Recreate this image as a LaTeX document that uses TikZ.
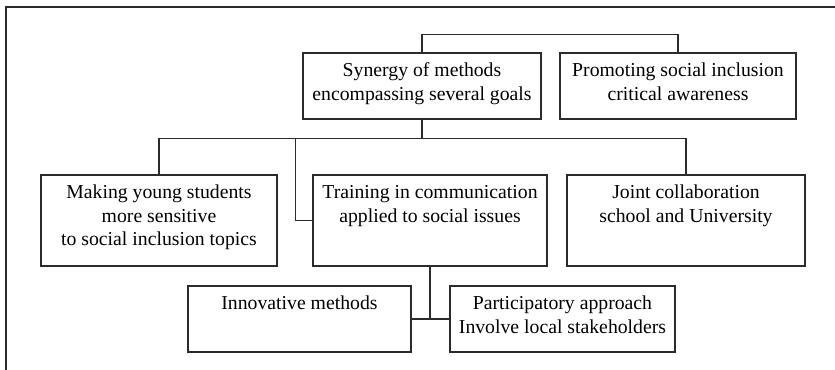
\documentclass[tikz,border=0pt]{standalone}
\usepackage{fontspec}
\setmainfont{Liberation Serif}
\usetikzlibrary{positioning,calc}
\definecolor{trazo}{HTML}{2B2B2B}
\newlength\px
\setlength\px{0.75pt}
\newcommand{\caja}[3]{\parbox[c][#2\px][t]{#1\px}{\centering\vspace*{5pt}\strut #3}}
\tikzset{
  recuadro/.style={draw=trazo,line width=0.9pt,inner sep=0pt,
                   font=\fontsize{14.8}{17.8}\selectfont},
  enlace/.style={draw=trazo,line width=0.9pt}
}

\begin{document}
\begin{tikzpicture}[x=0.75pt,y=-0.75pt]
  \useasboundingbox (0,0) rectangle (835,370);
  \draw[trazo,line width=1.1pt] (6,370) -- (6,7) -- (835,7);

  \node[recuadro] (syn) at (422,86) {\caja{238}{66}{Synergy of methods\\encompassing several goals}};
  \node[recuadro] (prom) at (678,86) {\caja{236}{66}{Promoting social inclusion\\critical awareness}};

  \node[recuadro] (mak) at (159,220.5) {\caja{236}{91}{Making young students\\more sensitive\\to social inclusion topics}};
  \node[recuadro] (tra) at (430,220.5) {\caja{234}{91}{Training in communication\\applied to social issues}};
  \node[recuadro] (joi) at (686,220.5) {\caja{238}{91}{Joint collaboration\\school and University}};

  \node[recuadro] (inn) at (299.5,319) {\caja{223}{66}{Innovative methods}};
  \node[recuadro] (par) at (562.5,319) {\caja{225}{66}{Participatory approach\\Involve local stakeholders}};

  \draw[enlace] (syn.north) -- ++(0,-18) -| (prom.north);
  \draw[enlace] (syn.south) -- ++(0,19) coordinate (bus);
  \draw[enlace] (mak.north) |- (bus) -| (joi.north);
  \draw[enlace] (tra.west) -- ++(-17,0) |- (bus);
  \draw[enlace] (tra.south) -- (tra.south |- inn.east);
  \draw[enlace] (inn.east) -- (par.west);
\end{tikzpicture}
\end{document}
